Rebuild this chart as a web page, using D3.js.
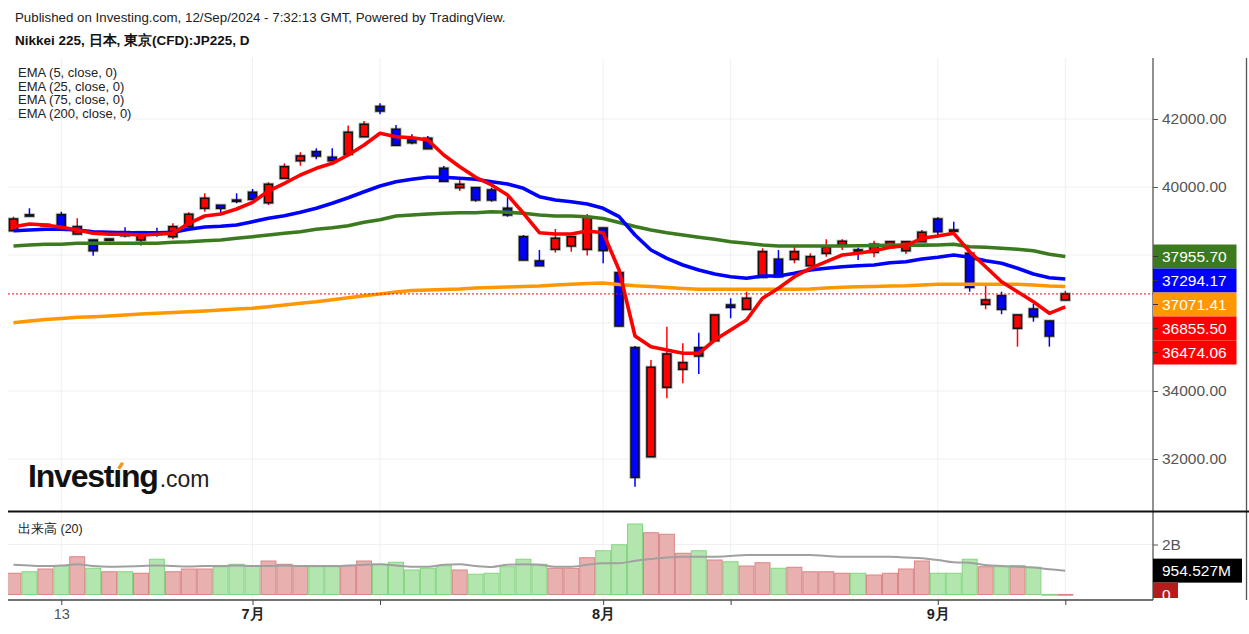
<!DOCTYPE html>
<html>
<head>
<meta charset="utf-8">
<script src="https://cdn.jsdelivr.net/npm/d3@7"></script>
<style>
  body { margin: 0; background: #fff; }
  svg { display: block; font-family: "Liberation Sans", Arial, sans-serif; }
</style>
</head>
<body>
<svg id="chart" width="1249" height="634"></svg>
<script>
// ---- data ----
var dates = [
  "06-10","06-11","06-12","06-13","06-14","06-17","06-18","06-19","06-20","06-21",
  "06-24","06-25","06-26","06-27","06-28","07-01","07-02","07-03","07-04","07-05",
  "07-08","07-09","07-10","07-11","07-12","07-16","07-17","07-18","07-19","07-22",
  "07-23","07-24","07-25","07-26","07-29","07-30","07-31","08-01","08-02","08-05",
  "08-06","08-07","08-08","08-09","08-13","08-14","08-15","08-16","08-19","08-20",
  "08-21","08-22","08-23","08-26","08-27","08-28","08-29","08-30","09-02","09-03",
  "09-04","09-05","09-06","09-09","09-10","09-11","09-12"];

var open = [38715,39180,38885,39185,38618,38441,38460,38677,38441,38645,
  38538,38833,39374,39462,39615,39844,39538,40256,40774,41038,
  40874,40962,41479,42368,41697,41403,41432,40550,39980,39980,
  39912,39374,38538,37824,38168,38265,38168,38794,37480,35274,
  32068,34109,34639,35274,35480,36530,36403,37344,37874,37874,
  37686,38050,38303,38150,38080,38227,38127,38391,39059,38735,
  38050,36550,36803,35845,36412,36059,36677];
var high = [39127,39374,38900,39274,39080,38450,38480,38815,38675,38803,
  38933,39256,39815,39470,39815,39941,40138,40697,41021,41138,
  41138,41809,41941,42462,41824,41550,41500,40618,40274,39990,
  39980,39697,38588,38147,38765,38545,39206,38800,37490,35324,
  34912,35892,35403,35715,36245,36727,36921,38197,38147,38265,
  38050,38462,38462,38215,38421,38400,38400,38735,39109,38980,
  38060,37118,36921,36245,36559,36065,36950];
var low = [38706,39147,38870,38750,38610,37980,38403,38521,38274,38538,
  38471,38825,39274,39227,39521,39630,39471,40250,40627,40815,
  40765,40955,41470,42138,41220,41256,41120,40160,39882,39568,
  39568,39127,37845,37680,38068,38097,37985,37756,35900,31186,
  32060,33786,34227,34500,35470,36139,36395,37335,37355,37756,
  37680,37950,38147,37853,37933,38220,38030,38385,38521,38720,
  36921,36403,36256,35303,36039,35303,36670];
var close = [39059,39170,38895,38756,38833,38127,38470,38568,38668,38640,
  38833,39197,39668,39374,39610,39638,40080,40597,40912,40912,
  40774,41609,41844,42235,41227,41303,41127,40168,40080,39618,
  39618,39177,37853,37686,38491,38538,39109,38133,35912,31462,
  34697,35089,34833,35030,36236,36462,36727,38097,37362,38097,
  37950,38227,38403,38140,38315,38391,38391,38668,38686,38725,
  37050,36677,36403,36236,36186,35618,36855.5];

// volume in billions
var volume = [0.85,0.91,1.02,1.15,1.51,1.05,0.91,0.91,0.85,1.41,
  0.91,1.02,1.02,1.11,1.21,1.15,1.34,1.21,1.15,1.11,
  1.11,1.15,1.34,1.21,1.29,0.98,1.05,1.15,0.98,0.81,
  0.85,1.11,1.41,1.21,1.05,1.05,1.47,1.75,1.99,2.82,
  2.47,2.41,1.65,1.75,1.38,1.31,1.14,1.27,1.05,1.09,
  0.91,0.91,0.85,0.85,0.78,0.85,1.02,1.34,0.85,0.85,
  1.41,1.11,1.11,1.15,1.09,0.004,0.003];
var volMA = [1.19,1.16,1.14,1.16,1.21,1.14,1.11,1.12,1.14,1.16,
  1.14,1.12,1.14,1.14,1.16,1.14,1.14,1.16,1.14,1.14,
  1.14,1.16,1.19,1.21,1.16,1.11,1.11,1.19,1.21,1.14,
  1.10,1.19,1.21,1.19,1.11,1.11,1.19,1.25,1.25,1.35,
  1.42,1.48,1.51,1.51,1.51,1.54,1.58,1.58,1.58,1.58,
  1.58,1.54,1.51,1.51,1.51,1.51,1.48,1.45,1.38,1.29,
  1.27,1.18,1.14,1.11,1.08,1.01,0.954527];

var ema5 = [38833,38912,38883,38815,38735,38638,38609,38609,38588,38609,
  38638,38933,39147,39206,39353,39550,39882,40109,40353,40550,
  40697,40941,41235,41579,41479,41450,41382,40941,40597,40285,
  40059,39765,39227,38656,38618,38618,38706,38656,37559,35618,
  35303,35206,35109,35109,35500,35794,36089,36727,37021,37362,
  37609,37803,38000,38050,38127,38227,38274,38491,38559,38638,
  38097,37656,37215,36921,36627,36285,36474.06];
var ema25 = [38715,38735,38756,38756,38735,38686,38668,38656,38656,38656,
  38668,38756,38824,38844,38883,38980,39080,39156,39256,39374,
  39521,39685,39862,40030,40156,40227,40285,40285,40256,40227,
  40156,40088,39962,39715,39618,39568,39500,39374,39127,38588,
  38147,37903,37706,37559,37441,37362,37315,37383,37383,37462,
  37559,37609,37656,37686,37706,37774,37803,37883,37933,38000,
  37933,37833,37756,37609,37441,37333,37294.17];
var ema75 = [38265,38294,38315,38315,38344,38344,38344,38344,38344,38344,
  38374,38391,38421,38441,38491,38538,38588,38638,38686,38756,
  38803,38862,38962,39038,39147,39177,39206,39227,39244,39244,
  39274,39256,39227,39177,39147,39147,39127,39074,38956,38838,
  38735,38656,38588,38521,38462,38391,38344,38294,38265,38265,
  38265,38265,38265,38271,38280,38285,38290,38290,38294,38315,
  38244,38227,38197,38168,38127,38021,37955.70];
var ema200 = [36009,36059,36103,36133,36168,36186,36206,36236,36265,36286,
  36309,36333,36353,36383,36412,36433,36480,36530,36580,36627,
  36686,36744,36803,36853,36912,36956,36971,36986,37000,37030,
  37044,37059,37074,37089,37118,37138,37162,37177,37133,37097,
  37074,37044,37015,36991,36991,36991,36991,36991,36991,36991,
  37000,37030,37050,37068,37074,37089,37097,37118,37138,37138,
  37138,37138,37138,37138,37118,37089,37071.41];

var priceTicks = [32000, 34000, 36000, 38000, 40000, 42000];
var tickDates = ["06-13","07-01","07-11","08-01","08-14","09-02","09-12"];
var tickLabels = ["13","7月","","8月","","9月",""];
var legendNames = ["EMA (5, close, 0)","EMA (25, close, 0)","EMA (75, close, 0)","EMA (200, close, 0)"];

// ---- layout ----
var W = 1249, H = 634;
var plotL = 8, plotR = 1153, priceTop = 58, priceBot = 511, volTop = 512, volBot = 600;
var UP = "#ff0000", DOWN = "#0000ff";
var C5 = "#ff0000", C25 = "#0000ff", C75 = "#3b7a1e", C200 = "#ff9800";

var x = d3.scaleLinear().domain([0, dates.length - 1]).range([13.5, 1065.3]);
var y = d3.scaleLinear().domain([32000, 42000]).range([459, 119]);
var yv = d3.scaleLinear().domain([0, 2]).range([594.5, 544.5]);
var step = x(1) - x(0);

var svg = d3.select("#chart");
svg.append("rect").attr("width", W).attr("height", H).attr("fill", "#fff");

var defs = svg.append("defs");
defs.append("clipPath").attr("id", "cp").append("rect")
  .attr("x", plotL).attr("y", priceTop).attr("width", plotR - plotL).attr("height", priceBot - priceTop);
defs.append("clipPath").attr("id", "cv").append("rect")
  .attr("x", plotL).attr("y", volTop).attr("width", plotR - plotL).attr("height", volBot - volTop - 1);
defs.append("clipPath").attr("id", "cl").append("rect")
  .attr("x", plotR).attr("y", volTop).attr("width", W - plotR).attr("height", 598 - volTop);

// header
svg.append("text").attr("x", 15).attr("y", 22).attr("font-size", 13.3).attr("fill", "#222")
  .text("Published on Investing.com, 12/Sep/2024 - 7:32:13 GMT, Powered by TradingView.");
svg.append("text").attr("x", 15).attr("y", 45).attr("font-size", 13.5).attr("font-weight", "bold").attr("fill", "#111")
  .text("Nikkei 225, 日本, 東京(CFD):JP225, D");

// grid
var tickIdx = tickDates.map(function(d) { return dates.indexOf(d); });
var grid = svg.append("g").attr("stroke", "#f0f0f0").attr("stroke-width", 1);
priceTicks.forEach(function(p) {
  grid.append("line").attr("x1", plotL).attr("x2", plotR).attr("y1", y(p)).attr("y2", y(p));
});
grid.append("line").attr("x1", plotL).attr("x2", plotR).attr("y1", yv(2)).attr("y2", yv(2));
tickIdx.forEach(function(i) {
  grid.append("line").attr("x1", x(i)).attr("x2", x(i)).attr("y1", priceTop).attr("y2", priceBot);
  grid.append("line").attr("x1", x(i)).attr("x2", x(i)).attr("y1", volTop).attr("y2", volBot);
});

// legend
legendNames.forEach(function(t, i) {
  svg.append("text").attr("x", 18).attr("y", 77 + i * 13.7).attr("font-size", 13).attr("fill", "#222").text(t);
});

// investing logo
var logo = svg.append("text").attr("x", 28).attr("y", 487).attr("font-size", 32)
  .attr("font-weight", "bold").attr("fill", "#111").attr("letter-spacing", -1.2).text("Investıng");
var ip = logo.node().getStartPositionOfChar(6);
var iw = logo.node().getSubStringLength(6, 1);
var cx = ip.x + iw / 2 + 1;
svg.append("path")
  .attr("d", "M" + (cx - 1) + ",468 L" + (cx + 3) + ",462 L" + (cx + 6) + ",463.5 L" + (cx + 2) + ",469.5 Z")
  .attr("fill", "#f7941d");
var lb = logo.node().getBBox();
svg.append("text").attr("x", lb.x + lb.width + 2).attr("y", 487).attr("font-size", 23)
  .attr("fill", "#222").text(".com");

// price panel
var gp = svg.append("g").attr("clip-path", "url(#cp)");
var idx = d3.range(dates.length);

// candles
var cg = gp.append("g");
cg.selectAll("line.wick").data(idx).enter().append("line")
  .attr("x1", function(i) { return x(i); }).attr("x2", function(i) { return x(i); })
  .attr("y1", function(i) { return y(high[i]); }).attr("y2", function(i) { return y(low[i]); })
  .attr("stroke", function(i) { return close[i] >= open[i] ? UP : DOWN; })
  .attr("stroke-width", 1.5);
var bw = 8;
function boxY(i) { return y(Math.max(open[i], close[i])); }
function boxH(i) { return Math.max(1.2, Math.abs(y(open[i]) - y(close[i]))); }
cg.selectAll("rect.halo").data(idx).enter().append("rect")
  .attr("x", function(i) { return x(i) - bw / 2; }).attr("width", bw)
  .attr("y", boxY).attr("height", boxH)
  .attr("fill", "none").attr("stroke", "rgba(0,0,0,0.3)").attr("stroke-width", 3.2);
cg.selectAll("rect.body").data(idx).enter().append("rect")
  .attr("x", function(i) { return x(i) - bw / 2; }).attr("width", bw)
  .attr("y", boxY).attr("height", boxH)
  .attr("fill", function(i) { return close[i] >= open[i] ? UP : DOWN; })
  .attr("stroke", "#111").attr("stroke-width", 1.5);

// ema lines
var line = d3.line().x(function(d, i) { return x(i); }).y(function(d) { return y(d); });
[[ema200, C200], [ema75, C75], [ema25, C25], [ema5, C5]].forEach(function(s) {
  gp.append("path").attr("d", line(s[0])).attr("fill", "none")
    .attr("stroke", s[1]).attr("stroke-width", 3.6).attr("stroke-linejoin", "round");
});

// last price line
var last = close[close.length - 1];
svg.append("line").attr("x1", plotL).attr("x2", plotR).attr("y1", y(last)).attr("y2", y(last))
  .attr("stroke", "#ff0000").attr("stroke-width", 1).attr("stroke-dasharray", "2,2");

// volume panel
var gv = svg.append("g").attr("clip-path", "url(#cv)");
gv.selectAll("rect").data(idx).enter().append("rect")
  .attr("x", function(i) { return x(i) - step / 2 + 0.5; }).attr("width", step - 1)
  .attr("y", function(i) { return yv(volume[i]); })
  .attr("height", function(i) { return Math.max(0.8, yv(0) - yv(volume[i])); })
  .attr("fill", function(i) { return close[i] >= open[i] ? "#e9b0b0" : "#b3e6af"; })
  .attr("stroke", function(i) { return close[i] >= open[i] ? "#da8585" : "#84d57e"; })
  .attr("stroke-width", 1);
var vline = d3.line().x(function(d, i) { return x(i); }).y(function(d) { return yv(d); }).curve(d3.curveMonotoneX);
gv.append("path").attr("d", vline(volMA)).attr("fill", "none")
  .attr("stroke", "#a0a0a0").attr("stroke-width", 2);
svg.append("text").attr("x", 18).attr("y", 533).attr("font-size", 12.5).attr("fill", "#222").text("出来高 (20)");

// frame lines
svg.append("line").attr("x1", plotR).attr("x2", plotR).attr("y1", priceTop).attr("y2", volBot)
  .attr("stroke", "#555").attr("stroke-width", 1.3);
svg.append("line").attr("x1", 1246.5).attr("x2", 1246.5).attr("y1", priceTop).attr("y2", volBot)
  .attr("stroke", "#555").attr("stroke-width", 1.3);
svg.append("line").attr("x1", plotL).attr("x2", W).attr("y1", 511.5).attr("y2", 511.5)
  .attr("stroke", "#111").attr("stroke-width", 2);
svg.append("line").attr("x1", plotL).attr("x2", plotR).attr("y1", volBot).attr("y2", volBot)
  .attr("stroke", "#444").attr("stroke-width", 1.6);

// value labels on price axis (stacked so they do not overlap)
var labels = [
  {v: ema75[ema75.length - 1], c: C75},
  {v: ema25[ema25.length - 1], c: C25},
  {v: ema200[ema200.length - 1], c: C200},
  {v: last, c: "#ff0000"},
  {v: ema5[ema5.length - 1], c: C5}
].map(function(d) { d.y = y(d.v); return d; }).sort(function(a, b) { return a.y - b.y; });
var prev = -1e9;
labels.forEach(function(d) { d.ly = Math.max(d.y, prev + 24); prev = d.ly; });

// price axis; tick labels hidden under a value label are not drawn
function covered(p) {
  return labels.some(function(d) { return Math.abs(d.ly - y(p)) < 20; });
}
var ya = svg.append("g").attr("transform", "translate(" + plotR + ",0)")
  .call(d3.axisRight(y).tickValues(priceTicks).tickSize(5).tickPadding(4)
    .tickFormat(function(d) { return covered(d) ? "" : d.toFixed(2); }));
ya.select(".domain").remove();
ya.selectAll("line").attr("stroke", "#555");
ya.selectAll("text").attr("font-size", 15.5).attr("fill", "#555").attr("font-family", "Liberation Sans, Arial, sans-serif");

var lg = svg.append("g").selectAll("g").data(labels).enter().append("g");
lg.append("rect").attr("x", plotR).attr("width", 1236.5 - plotR)
  .attr("y", function(d) { return d.ly - 12; }).attr("height", 24).attr("fill", function(d) { return d.c; });
lg.append("line").attr("x1", plotR).attr("x2", plotR + 5)
  .attr("y1", function(d) { return d.ly; }).attr("y2", function(d) { return d.ly; })
  .attr("stroke", "#333");
lg.append("text").attr("x", 1162).attr("y", function(d) { return d.ly; }).attr("dy", "0.36em")
  .attr("font-size", 15.5).attr("fill", "#fff").text(function(d) { return d.v.toFixed(2); });

// volume axis
var va = svg.append("g").attr("transform", "translate(" + plotR + ",0)")
  .call(d3.axisRight(yv).tickValues([2]).tickSize(5).tickPadding(4)
    .tickFormat(function(d) { return d + "B"; }));
va.select(".domain").remove();
va.selectAll("line").attr("stroke", "#555");
va.selectAll("text").attr("font-size", 15.5).attr("fill", "#555").attr("font-family", "Liberation Sans, Arial, sans-serif");

var maLast = volMA[volMA.length - 1];
var vlab = svg.append("g").attr("clip-path", "url(#cl)");
vlab.append("rect").attr("x", plotR).attr("y", yv(maLast) - 12).attr("width", 1242 - plotR).attr("height", 24).attr("fill", "#000");
vlab.append("text").attr("x", 1162).attr("y", yv(maLast)).attr("dy", "0.36em").attr("font-size", 15.5)
  .attr("fill", "#fff").text((maLast * 1000).toFixed(3) + "M");
var vLast = volume[volume.length - 1];
vlab.append("rect").attr("x", plotR).attr("y", yv(maLast) + 12).attr("width", 25).attr("height", 24).attr("fill", "#b71c1c");
vlab.append("text").attr("x", 1162).attr("y", yv(vLast)).attr("dy", "0.36em").attr("font-size", 15.5)
  .attr("fill", "#fff").text(Math.round(vLast));

// time axis
var xa = svg.append("g").attr("transform", "translate(0," + volBot + ")")
  .call(d3.axisBottom(x).tickValues(tickIdx).tickSize(5).tickPadding(4)
    .tickFormat(function(d, i) { return tickLabels[i]; }));
xa.select(".domain").remove();
xa.selectAll("line").attr("stroke", "#444");
xa.selectAll("text").attr("font-size", 14.5).attr("font-family", "Liberation Sans, Arial, sans-serif")
  .attr("fill", function(d, i) { return /月/.test(tickLabels[i]) ? "#222" : "#555"; })
  .attr("font-weight", function(d, i) { return /月/.test(tickLabels[i]) ? "bold" : "normal"; });
</script>
</body>
</html>
